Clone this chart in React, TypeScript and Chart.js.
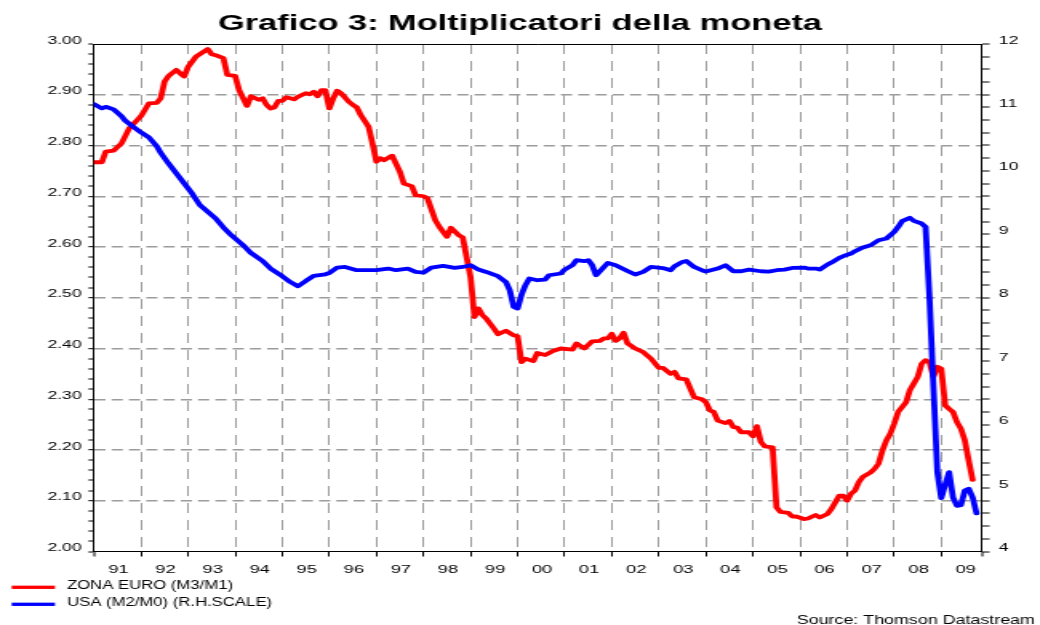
import React, { useEffect, useRef } from 'react';
import { Chart, registerables } from 'chart.js';

Chart.register(...registerables);

// ---------------- text ----------------
const TITLE = 'Grafico 3: Moltiplicatori della moneta';
const SOURCE = 'Source: Thomson Datastream';
const SERIES_LABELS = ['ZONA EURO (M3/M1)', 'USA (M2/M0) (R.H.SCALE)'];
const YEAR_LABELS = ['91', '92', '93', '94', '95', '96', '97', '98', '99', '00', '01', '02', '03', '04', '05', '06', '07', '08', '09'];
const LEFT_TICK_LABELS = ['2.00', '2.10', '2.20', '2.30', '2.40', '2.50', '2.60', '2.70', '2.80', '2.90', '3.00'];
const RIGHT_TICK_LABELS = ['4', '5', '6', '7', '8', '9', '10', '11', '12'];

// ---------------- data ----------------
const euroDates = [
  '1991-01', '1991-03', '1991-04', '1991-06', '1991-07', '1991-08', '1991-10', '1991-12',
  '1992-01', '1992-03', '1992-05', '1992-06', '1992-07', '1992-08', '1992-10', '1992-11', '1992-12',
  '1993-01', '1993-03', '1993-05', '1993-06', '1993-07', '1993-08', '1993-10', '1993-11',
  '1994-01', '1994-02', '1994-04', '1994-05', '1994-07', '1994-08', '1994-09', '1994-10', '1994-11', '1994-12',
  '1995-01', '1995-02', '1995-04', '1995-05', '1995-07', '1995-08', '1995-09', '1995-10', '1995-11', '1995-12',
  '1996-01', '1996-02', '1996-03', '1996-04', '1996-06', '1996-07', '1996-08', '1996-09', '1996-11', '1996-12',
  '1997-01', '1997-02', '1997-03', '1997-05', '1997-07', '1997-08', '1997-10', '1997-11',
  '1998-01', '1998-02', '1998-04', '1998-05', '1998-07', '1998-08', '1998-10', '1998-11', '1998-12',
  '1999-01', '1999-02', '1999-03', '1999-04', '1999-05', '1999-07', '1999-08', '1999-10', '1999-12',
  '2000-01', '2000-02', '2000-03', '2000-05', '2000-06', '2000-08', '2000-10', '2000-12',
  '2001-03', '2001-04', '2001-06', '2001-08', '2001-10', '2001-11', '2001-12',
  '2002-01', '2002-02', '2002-03', '2002-04', '2002-05', '2002-07', '2002-09', '2002-11',
  '2003-01', '2003-02', '2003-04', '2003-05', '2003-06', '2003-08', '2003-09', '2003-10', '2003-12',
  '2004-01', '2004-02', '2004-03', '2004-04', '2004-06', '2004-07', '2004-08', '2004-09', '2004-10', '2004-12',
  '2005-01', '2005-02', '2005-03', '2005-04', '2005-06', '2005-07', '2005-08', '2005-10', '2005-11', '2005-12',
  '2006-02', '2006-03', '2006-05', '2006-06', '2006-08', '2006-09', '2006-10', '2006-11', '2006-12',
  '2007-01', '2007-02', '2007-03', '2007-04', '2007-05', '2007-07', '2007-08', '2007-09', '2007-10', '2007-11', '2007-12',
  '2008-01', '2008-02', '2008-04', '2008-05', '2008-06', '2008-07', '2008-08', '2008-09', '2008-10', '2008-11', '2008-12',
  '2009-01', '2009-02', '2009-03', '2009-04', '2009-05', '2009-06', '2009-07', '2009-08', '2009-09',
];
const euroValues = [
  2.767, 2.767, 2.788, 2.790, 2.797, 2.804, 2.834, 2.850,
  2.858, 2.883, 2.884, 2.893, 2.926, 2.937, 2.949, 2.942, 2.936,
  2.955, 2.975, 2.985, 2.990, 2.980, 2.978, 2.972, 2.939,
  2.937, 2.909, 2.878, 2.897, 2.890, 2.893, 2.880, 2.873, 2.875, 2.888,
  2.888, 2.895, 2.891, 2.896, 2.903, 2.901, 2.906, 2.897, 2.909, 2.909,
  2.873, 2.893, 2.908, 2.903, 2.886, 2.880, 2.875, 2.860, 2.837, 2.804,
  2.768, 2.775, 2.771, 2.780, 2.748, 2.725, 2.720, 2.702,
  2.700, 2.696, 2.653, 2.640, 2.620, 2.638, 2.623, 2.619, 2.580,
  2.541, 2.462, 2.479, 2.466, 2.459, 2.439, 2.428, 2.435, 2.426,
  2.424, 2.373, 2.380, 2.375, 2.391, 2.387, 2.395, 2.400,
  2.398, 2.410, 2.400, 2.414, 2.415, 2.420, 2.420,
  2.429, 2.415, 2.420, 2.431, 2.410, 2.400, 2.393, 2.380,
  2.362, 2.362, 2.350, 2.354, 2.341, 2.339, 2.321, 2.304, 2.300,
  2.294, 2.278, 2.275, 2.258, 2.253, 2.257, 2.245, 2.244, 2.235, 2.235,
  2.227, 2.247, 2.216, 2.207, 2.205, 2.087, 2.078, 2.076, 2.069, 2.069,
  2.064, 2.065, 2.072, 2.067, 2.074, 2.084, 2.097, 2.110, 2.110,
  2.100, 2.114, 2.120, 2.137, 2.147, 2.156, 2.163, 2.173, 2.199, 2.219, 2.232,
  2.252, 2.275, 2.294, 2.318, 2.331, 2.344, 2.370, 2.377, 2.373, 2.344, 2.364,
  2.360, 2.288, 2.281, 2.275, 2.255, 2.242, 2.219, 2.179, 2.141,
];

const usaDates = [
  '1991-01', '1991-03', '1991-04', '1991-06', '1991-08', '1991-09', '1991-11',
  '1992-01', '1992-03', '1992-05', '1992-06', '1992-08', '1992-10', '1992-12',
  '1993-02', '1993-04', '1993-05', '1993-08', '1993-10', '1993-12',
  '1994-03', '1994-05', '1994-08', '1994-10',
  '1995-01', '1995-03', '1995-05', '1995-07', '1995-09', '1995-12',
  '1996-01', '1996-03', '1996-05', '1996-08',
  '1997-01', '1997-04', '1997-06', '1997-09', '1997-11',
  '1998-01', '1998-03', '1998-06', '1998-09', '1998-11',
  '1999-01', '1999-03', '1999-05', '1999-08', '1999-10', '1999-11', '1999-12',
  '2000-01', '2000-02', '2000-03', '2000-04', '2000-06', '2000-08', '2000-09', '2000-12',
  '2001-01', '2001-03', '2001-04', '2001-06', '2001-07', '2001-08', '2001-09', '2001-11', '2001-12',
  '2002-02', '2002-05', '2002-07', '2002-09', '2002-11',
  '2003-02', '2003-04', '2003-05', '2003-07', '2003-08', '2003-10', '2003-12',
  '2004-01', '2004-04', '2004-06', '2004-08', '2004-10', '2004-12',
  '2005-03', '2005-05', '2005-07', '2005-09', '2005-11',
  '2006-02', '2006-03', '2006-05', '2006-06', '2006-08', '2006-09', '2006-11', '2006-12',
  '2007-02', '2007-03', '2007-05', '2007-07', '2007-09', '2007-11',
  '2008-01', '2008-02', '2008-03', '2008-05', '2008-06', '2008-08', '2008-09', '2008-10', '2008-11', '2008-12',
  '2009-01', '2009-02', '2009-03', '2009-04', '2009-05', '2009-06', '2009-07', '2009-08', '2009-09', '2009-10',
];
const usaValues = [
  11.053, 10.985, 11.010, 10.970, 10.864, 10.790, 10.695,
  10.606, 10.528, 10.390, 10.285, 10.117, 9.960, 9.802,
  9.644, 9.460, 9.407, 9.250, 9.108, 8.986,
  8.830, 8.707, 8.580, 8.460,
  8.340, 8.250, 8.182, 8.265, 8.344, 8.370,
  8.390, 8.476, 8.486, 8.434,
  8.434, 8.460, 8.434, 8.460, 8.407,
  8.397, 8.476, 8.502, 8.470, 8.486,
  8.513, 8.444, 8.407, 8.340, 8.250, 8.118, 7.855,
  7.830, 8.050, 8.200, 8.303, 8.276, 8.287, 8.355, 8.382,
  8.444, 8.513, 8.592, 8.576, 8.592, 8.513, 8.355, 8.486, 8.550,
  8.513, 8.423, 8.366, 8.407, 8.486,
  8.468, 8.434, 8.497, 8.565, 8.580, 8.486, 8.434,
  8.413, 8.460, 8.513, 8.418, 8.418, 8.444,
  8.418, 8.413, 8.434, 8.444, 8.470,
  8.476, 8.460, 8.460, 8.444, 8.524, 8.555, 8.628, 8.655,
  8.697, 8.734, 8.792, 8.828, 8.907, 8.934,
  9.038, 9.117, 9.207, 9.260, 9.212, 9.170, 9.117, 8.000, 6.600, 5.250,
  4.840, 5.050, 5.250, 4.850, 4.720, 4.730, 4.960, 4.990, 4.850, 4.600,
];

// axis range, months counted from January 1991
const AXIS_END = 226.3;

// ---------------- layout / style ----------------
const SX = 1.6; // the canvas is drawn narrow and stretched horizontally to 1040px
const CW = 650;
const CH = 625;
const FONT = "'Liberation Sans', Arial, Helvetica, sans-serif";
const GRID_COLOR = '#9c9c9c';
const RED = '#ff0000';
const BLUE = '#0000ff';

const toMonth = (d: string) => {
  const [y, m] = d.split('-').map(Number);
  return (y - 1991) * 12 + (m - 1);
};

const leftTickValues = Array.from({ length: 51 }, (_, i) => Math.round((2 + i * 0.02) * 100) / 100);
const rightTickValues = Array.from({ length: 41 }, (_, i) => Math.round((4 + i * 0.2) * 10) / 10);
const isLeftMajor = (v: number) => Math.round(v * 100) % 10 === 0;
const isRightMajor = (v: number) => Math.abs(v - Math.round(v)) < 1e-6;

const textPlugin = {
  id: 'frameAndTexts',
  afterDraw(chart: any) {
    const { ctx, chartArea: a } = chart;
    ctx.save();
    // top frame line
    ctx.strokeStyle = '#000';
    ctx.lineWidth = 1;
    ctx.beginPath();
    const ty = Math.round(a.top) + 0.5;
    ctx.moveTo(a.left, ty);
    ctx.lineTo(a.right, ty);
    ctx.stroke();

    // title
    ctx.fillStyle = '#000';
    ctx.font = `bold 21.5px ${FONT}`;
    ctx.textAlign = 'center';
    ctx.textBaseline = 'alphabetic';
    ctx.fillText(TITLE, 520 / SX, 30);

    // legend
    chart.data.datasets.forEach((ds: any, i: number) => {
      const y = 587.3 + i * 17;
      ctx.strokeStyle = ds.borderColor;
      ctx.lineWidth = 3.3;
      ctx.lineCap = 'butt';
      ctx.beginPath();
      ctx.moveTo(11.7 / SX, y);
      ctx.lineTo(55 / SX, y);
      ctx.stroke();
      ctx.save();
      ctx.translate(67 / SX, y + 1.2);
      ctx.scale(0.87, 1);
      ctx.fillStyle = '#000';
      ctx.font = `12px ${FONT}`;
      ctx.textAlign = 'left';
      ctx.fillText(ds.label, 0, 0);
      ctx.restore();
    });

    // source
    ctx.save();
    ctx.translate(1035 / SX, 624);
    ctx.scale(0.93, 1);
    ctx.fillStyle = '#000';
    ctx.font = `12px ${FONT}`;
    ctx.textAlign = 'right';
    ctx.fillText(SOURCE, 0, 0);
    ctx.restore();

    ctx.restore();
  },
};

export default function App() {
  const ref = useRef<HTMLCanvasElement>(null);

  useEffect(() => {
    if (!ref.current) return;
    const euroData = euroDates.map((d, i) => ({ x: toMonth(d), y: euroValues[i] }));
    const usaData = usaDates.map((d, i) => ({ x: toMonth(d), y: usaValues[i] }));

    const chart = new Chart(ref.current, {
      type: 'line',
      data: {
        datasets: [
          {
            label: SERIES_LABELS[0],
            data: euroData,
            borderColor: RED,
            backgroundColor: RED,
            borderWidth: 3.8,
            yAxisID: 'y',
            xAxisID: 'x',
            order: 1,
          },
          {
            label: SERIES_LABELS[1],
            data: usaData,
            borderColor: BLUE,
            backgroundColor: BLUE,
            borderWidth: 3.8,
            yAxisID: 'y1',
            xAxisID: 'x',
            order: 0,
          },
        ],
      },
      options: {
        animation: false,
        responsive: false,
        devicePixelRatio: 1,
        layout: { padding: { left: 0, right: 0, top: 44, bottom: 33.5 } },
        elements: {
          point: { radius: 0, hoverRadius: 0 },
          line: { tension: 0, borderJoinStyle: 'round', borderCapStyle: 'round' },
        },
        plugins: {
          legend: { display: false },
          title: { display: false },
          tooltip: { enabled: false },
        },
        events: [],
        scales: {
          x: {
            type: 'linear',
            position: 'bottom',
            min: 0,
            max: AXIS_END,
            afterBuildTicks: (s: any) => {
              s.ticks = [...YEAR_LABELS.map((_, i) => ({ value: i * 12 })), { value: AXIS_END }];
            },
            afterFit: (s: any) => {
              s.height = 40;
            },
            ticks: {
              autoSkip: false,
              maxRotation: 0,
              minRotation: 0,
              labelOffset: (47.05 / SX) / 2 + 0.6,
              padding: 6,
              color: '#000',
              font: { family: FONT, size: 11.5 },
              callback: (v: any) => {
                const i = Math.round(v / 12);
                return Math.abs(v - i * 12) < 1e-6 && i < YEAR_LABELS.length ? YEAR_LABELS[i] : '';
              },
            },
            grid: {
              color: GRID_COLOR,
              lineWidth: (c: any) => (c.tick && c.tick.value > 0.5 && c.tick.value < AXIS_END - 0.5 ? 1.0 : 0),
              drawTicks: true,
              tickLength: 5,
              tickColor: '#000',
              tickWidth: 1,
            },
            border: { display: true, color: '#000', width: 1, dash: [10, 7] },
          },
          y: {
            type: 'linear',
            position: 'left',
            min: 2,
            max: 3,
            afterBuildTicks: (s: any) => {
              s.ticks = leftTickValues.map((v) => ({ value: v }));
            },
            afterFit: (s: any) => {
              s.width = 94 / SX;
            },
            ticks: {
              autoSkip: false,
              padding: 4.2,
              labelOffset: -3.5,
              color: '#000',
              font: { family: FONT, size: 11 },
              callback: (v: any) => (isLeftMajor(v) ? LEFT_TICK_LABELS[Math.round((v - 2) * 10)] : ''),
            },
            grid: {
              color: GRID_COLOR,
              lineWidth: (c: any) =>
                c.tick && isLeftMajor(c.tick.value) && c.tick.value > 2.001 && c.tick.value < 2.999 ? 1.4 : 0,
              tickLength: 3.5,
              tickColor: '#000',
              tickWidth: 1,
            },
            border: { display: true, color: '#000', width: 1, dash: [7, 3.8] },
          },
          y1: {
            type: 'linear',
            position: 'right',
            min: 4,
            max: 12,
            afterBuildTicks: (s: any) => {
              s.ticks = rightTickValues.map((v) => ({ value: v }));
            },
            afterFit: (s: any) => {
              s.width = CW - 981.7 / SX;
            },
            ticks: {
              autoSkip: false,
              padding: 5.8,
              labelOffset: -3.5,
              color: '#000',
              font: { family: FONT, size: 11 },
              callback: (v: any) => (isRightMajor(v) ? RIGHT_TICK_LABELS[Math.round(v) - 4] : ''),
            },
            grid: {
              drawOnChartArea: false,
              lineWidth: 0,
              tickLength: 5,
              tickColor: '#000',
              tickWidth: 1,
            },
            border: { display: true, color: '#000', width: 1 },
          },
        },
      } as any,
      plugins: [textPlugin],
    });

    return () => chart.destroy();
  }, []);

  return (
    <div
      style={{
        position: 'absolute',
        left: 0,
        top: 0,
        width: 1040,
        height: 625,
        overflow: 'hidden',
        background: '#fff',
      }}
    >
      <canvas
        ref={ref}
        width={CW}
        height={CH}
        style={{ width: '1040px', height: '625px', display: 'block' }}
      />
    </div>
  );
}
